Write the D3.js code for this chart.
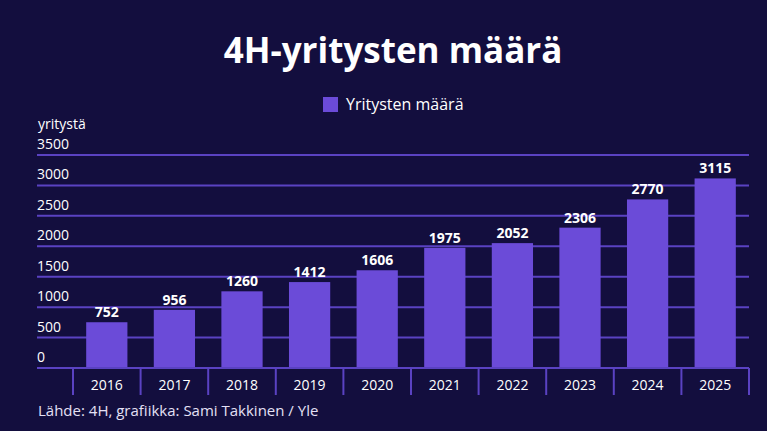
<!DOCTYPE html>
<html>
<head>
<meta charset="utf-8">
<script src="https://cdn.jsdelivr.net/npm/d3@7"></script>
<style>
    html, body { margin: 0; padding: 0; background: #130e3e; }
    svg { display: block; font-family: "Open Sans", sans-serif; }
</style>
</head>
<body>
<script>
const years = ["2016", "2017", "2018", "2019", "2020", "2021", "2022", "2023", "2024", "2025"];
const counts = [752, 956, 1260, 1412, 1606, 1975, 2052, 2306, 2770, 3115];
const yTicks = [0, 500, 1000, 1500, 2000, 2500, 3000, 3500];

const width = 767, height = 431;
const bg = "#130e3e", barColor = "#6b4bd8", gridColor = "#5a42c2", textColor = "#ffffff";

var svg = d3.select("body")
            .append("svg")
            .attr("width", width)
            .attr("height", height);

svg.append("rect")
   .attr("width", width)
   .attr("height", height)
   .attr("fill", bg);

// title
svg.append("text")
   .attr("x", 393)
   .attr("y", 63)
   .attr("text-anchor", "middle")
   .attr("fill", textColor)
   .style("font-size", "35px")
   .style("font-weight", "700")
   .text("4H-yritysten määrä");

// legend
svg.append("rect")
   .attr("x", 323)
   .attr("y", 97)
   .attr("width", 15)
   .attr("height", 15)
   .attr("fill", barColor);

svg.append("text")
   .attr("x", 346)
   .attr("y", 110)
   .attr("fill", textColor)
   .style("font-size", "16px")
   .text("Yritysten määrä");

// unit label
svg.append("text")
   .attr("x", 38)
   .attr("y", 129)
   .attr("fill", textColor)
   .style("font-size", "14px")
   .text("yritystä");

var xScale = d3.scaleBand()
            .domain(years)
            .range([73, 749])
            .paddingInner(0.39)
            .paddingOuter(0.195);

var yScale = d3.scaleLinear()
            .domain([0, 3500])
            .range([368, 155]);

// gridlines + tick labels
var grid = svg.append("g");
grid.selectAll("line")
    .data(yTicks)
    .join("line")
    .attr("x1", 37)
    .attr("x2", 749)
    .attr("y1", (d) => yScale(d))
    .attr("y2", (d) => yScale(d))
    .attr("stroke", gridColor)
    .attr("stroke-width", 2);

grid.selectAll("text")
    .data(yTicks)
    .join("text")
    .attr("x", 37)
    .attr("y", (d) => yScale(d) - 6)
    .attr("fill", textColor)
    .style("font-size", "14px")
    .text((d) => d);

// bars
svg.append("g")
   .selectAll("rect")
   .data(counts)
   .join("rect")
   .attr("x", (d, i) => xScale(years[i]))
   .attr("y", (d) => yScale(d))
   .attr("width", xScale.bandwidth())
   .attr("height", (d) => yScale(0) - yScale(d))
   .attr("fill", barColor);

svg.append("g")
   .selectAll("text")
   .data(counts)
   .join("text")
   .attr("x", (d, i) => xScale(years[i]) + xScale.bandwidth() / 2)
   .attr("y", (d) => yScale(d) - 5)
   .attr("text-anchor", "middle")
   .attr("fill", textColor)
   .style("font-size", "14px")
   .style("font-weight", "700")
   .text((d) => d);

// x axis
var xAxis = d3.axisBottom()
            .scale(xScale)
            .tickSize(0)
            .tickPadding(12);

var gx = svg.append("g")
   .attr("transform", `translate(0, ${yScale(0)})`)
   .call(xAxis);

gx.select(".domain").remove();
gx.selectAll("text")
  .attr("fill", textColor)
  .style("font-size", "14px")
  .style("font-family", "Open Sans, sans-serif");

svg.append("line")
   .attr("x1", 37)
   .attr("x2", 749)
   .attr("y1", yScale(0))
   .attr("y2", yScale(0))
   .attr("stroke", gridColor)
   .attr("stroke-width", 2);

// separators between year bands
let step = xScale.step();
let edges = years.map((y) => xScale(y) - xScale.paddingInner() * step / 2);
edges.push(xScale(years[years.length - 1]) + xScale.bandwidth() + xScale.paddingInner() * step / 2);
svg.append("g")
   .selectAll("line")
   .data(edges)
   .join("line")
   .attr("x1", (d) => d)
   .attr("x2", (d) => d)
   .attr("y1", yScale(0))
   .attr("y2", 395)
   .attr("stroke", gridColor)
   .attr("stroke-width", 2);

// source
svg.append("text")
   .attr("x", 38)
   .attr("y", 416)
   .attr("fill", "#e4e0f5")
   .style("font-size", "15px")
   .text("Lähde: 4H, grafiikka: Sami Takkinen / Yle");
</script>
</body>
</html>
